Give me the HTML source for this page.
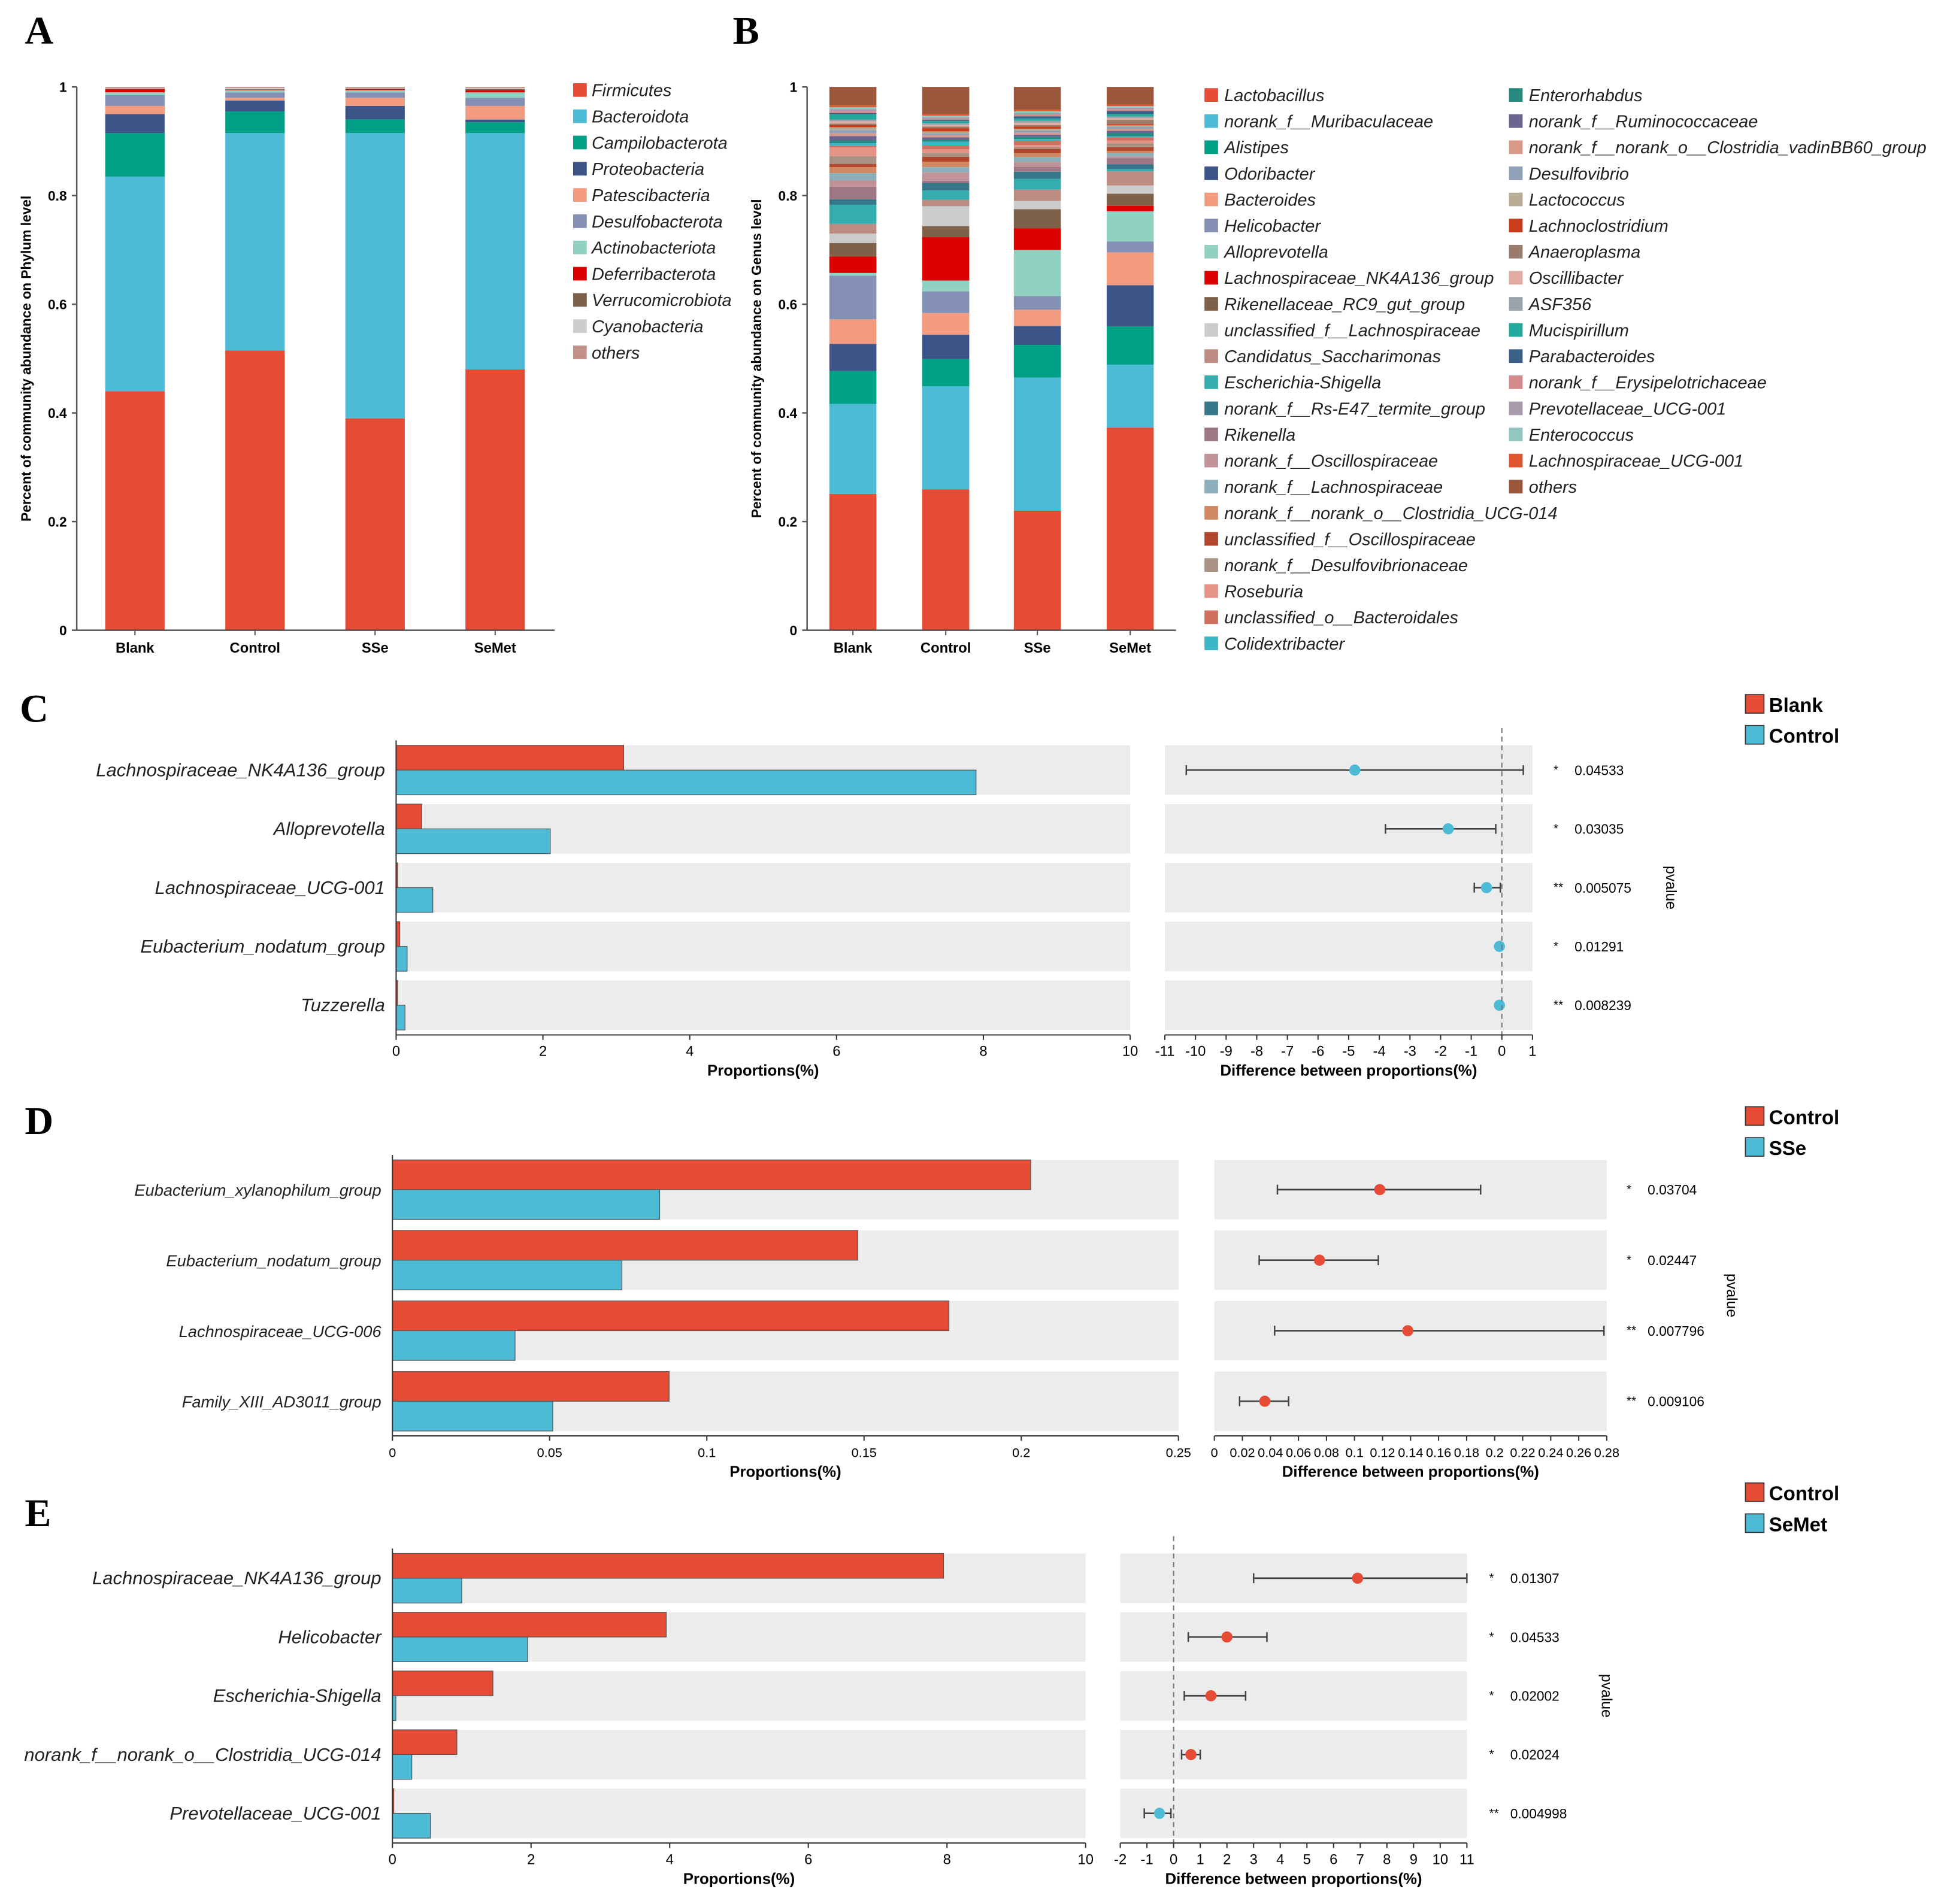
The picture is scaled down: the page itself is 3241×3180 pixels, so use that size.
<!DOCTYPE html>
<html><head><meta charset="utf-8"><style>
html,body{margin:0;padding:0;background:#fff;}
svg{display:block;font-family:"Liberation Sans",sans-serif;}
</style></head><body>
<svg id="fig" width="3241" height="3180" viewBox="0 0 1568 1538" xmlns="http://www.w3.org/2000/svg"></svg>
<script>
// ---------- Panel A data ----------
const aGroups = ["Blank","Control","SSe","SeMet"];
const aPhyla = ["Firmicutes","Bacteroidota","Campilobacterota","Proteobacteria","Patescibacteria","Desulfobacterota","Actinobacteriota","Deferribacterota","Verrucomicrobiota","Cyanobacteria","others"];
const aColors = ["#e64b35","#4dbbd5","#00a087","#3c5488","#f39b7f","#8491b4","#91d1c2","#dc0000","#7e6148","#cccccc","#c4908a"];
const aBlank   = [0.44,0.395,0.08,0.035,0.015,0.02,0.005,0.006,0.001,0.001,0.002];
const aControl = [0.515,0.40,0.04,0.02,0.005,0.01,0.004,0.001,0.001,0.002,0.002];
const aSSe     = [0.39,0.525,0.025,0.025,0.015,0.01,0.004,0.002,0.001,0.001,0.002];
const aSeMet   = [0.48,0.435,0.02,0.005,0.025,0.015,0.01,0.004,0.002,0.002,0.002];
const aYTicks = [0,0.2,0.4,0.6,0.8,1];
const aYTickLabels = ["0","0.2","0.4","0.6","0.8","1"];

// ---------- Panel B data ----------
const bGroups = ["Blank","Control","SSe","SeMet"];
const bGenera = ["Lactobacillus","norank_f__Muribaculaceae","Alistipes","Odoribacter","Bacteroides","Helicobacter","Alloprevotella","Lachnospiraceae_NK4A136_group","Rikenellaceae_RC9_gut_group","unclassified_f__Lachnospiraceae","Candidatus_Saccharimonas","Escherichia-Shigella","norank_f__Rs-E47_termite_group","Rikenella","norank_f__Oscillospiraceae","norank_f__Lachnospiraceae","norank_f__norank_o__Clostridia_UCG-014","unclassified_f__Oscillospiraceae","norank_f__Desulfovibrionaceae","Roseburia","unclassified_o__Bacteroidales","Colidextribacter","Enterorhabdus","norank_f__Ruminococcaceae","norank_f__norank_o__Clostridia_vadinBB60_group","Desulfovibrio","Lactococcus","Lachnoclostridium","Anaeroplasma","Oscillibacter","ASF356","Mucispirillum","Parabacteroides","norank_f__Erysipelotrichaceae","Prevotellaceae_UCG-001","Enterococcus","Lachnospiraceae_UCG-001","others"];
const bColors = ["#e64b35","#4dbbd5","#00a087","#3c5488","#f39b7f","#8491b4","#91d1c2","#dc0000","#7e6148","#cccccc","#bc8c83","#33adb0","#357788","#9f7685","#c19398","#8bb0bc","#d28763","#b2472b","#a89284","#e49486","#d26e5d","#3db6c8","#26897f","#6c6390","#d99a8a","#8fa0b8","#b9ad93","#cc3b1a","#9a7c6c","#e3aca2","#99a4ad","#22a99b","#3a6089","#d38a8a","#a899ad","#94c6c1","#e0562f","#9a573a"];
const bBlank   = [0.25,0.165,0.06,0.05,0.045,0.08,0.005,0.03,0.025,0.017,0.018,0.035,0.01,0.023,0.012,0.013,0.011,0.006,0.014,0.016,0.003,0.005,0.005,0.008,0.005,0.006,0.005,0.004,0.003,0.004,0.003,0.01,0.002,0.004,0.003,0.004,0.003,0.034];
const bControl = [0.26,0.19,0.05,0.045,0.04,0.04,0.02,0.08,0.02,0.037,0.012,0.017,0.014,0.004,0.015,0.01,0.01,0.009,0.007,0.007,0.007,0.007,0.004,0.004,0.004,0.003,0.004,0.006,0.003,0.003,0.003,0.004,0.002,0.002,0.003,0.003,0.003,0.05];
const bSSe     = [0.22,0.245,0.06,0.035,0.03,0.025,0.085,0.04,0.035,0.015,0.021,0.02,0.013,0.009,0.009,0.009,0.007,0.008,0.003,0.004,0.008,0.003,0.004,0.004,0.004,0.004,0.003,0.004,0.003,0.004,0.004,0.004,0.004,0.003,0.003,0.003,0.003,0.042];
const bSeMet   = [0.37,0.115,0.07,0.075,0.06,0.02,0.055,0.01,0.022,0.015,0.026,0.004,0.009,0.011,0.003,0.006,0.004,0.007,0.007,0.005,0.006,0.002,0.006,0.004,0.003,0.004,0.003,0.002,0.008,0.003,0.003,0.005,0.005,0.003,0.003,0.003,0.003,0.032];

// ---------- Panel C data ----------
const cTaxa = ["Lachnospiraceae_NK4A136_group","Alloprevotella","Lachnospiraceae_UCG-001","Eubacterium_nodatum_group","Tuzzerella"];
const cGroupA = [3.1,0.35,0.02,0.05,0.02];
const cGroupB = [7.9,2.1,0.5,0.15,0.12];
const cDiff = [-4.8,-1.75,-0.5,-0.08,-0.08];
const cLow = [-10.3,-3.8,-0.9,-0.12,-0.12];
const cHigh = [0.7,-0.2,-0.05,-0.04,-0.04];
const cStars = ["*","*","**","*","**"];
const cPvals = ["0.04533","0.03035","0.005075","0.01291","0.008239"];
const cLeftTicks = [0,2,4,6,8,10];
const cRightTicks = [-11,-10,-9,-8,-7,-6,-5,-4,-3,-2,-1,0,1];

// ---------- Panel D data ----------
const dTaxa = ["Eubacterium_xylanophilum_group","Eubacterium_nodatum_group","Lachnospiraceae_UCG-006","Family_XIII_AD3011_group"];
const dGroupA = [0.203,0.148,0.177,0.088];
const dGroupB = [0.085,0.073,0.039,0.051];
const dDiff = [0.118,0.075,0.138,0.036];
const dLow = [0.045,0.032,0.043,0.018];
const dHigh = [0.19,0.117,0.278,0.053];
const dStars = ["*","*","**","**"];
const dPvals = ["0.03704","0.02447","0.007796","0.009106"];
const dLeftTicks = [0,0.05,0.1,0.15,0.2,0.25];
const dRightTicks = [0,0.02,0.04,0.06,0.08,0.1,0.12,0.14,0.16,0.18,0.2,0.22,0.24,0.26,0.28];

// ---------- Panel E data ----------
const eTaxa = ["Lachnospiraceae_NK4A136_group","Helicobacter","Escherichia-Shigella","norank_f__norank_o__Clostridia_UCG-014","Prevotellaceae_UCG-001"];
const eGroupA = [7.95,3.95,1.45,0.93,0.02];
const eGroupB = [1.0,1.95,0.05,0.28,0.55];
const eDiff = [6.9,2.0,1.4,0.65,-0.53];
const eLow = [3.0,0.55,0.4,0.3,-1.1];
const eHigh = [11,3.5,2.7,1.0,-0.1];
const eStars = ["*","*","*","*","**"];
const ePvals = ["0.01307","0.04533","0.02002","0.02024","0.004998"];
const eLeftTicks = [0,2,4,6,8,10];
const eRightTicks = [-2,-1,0,1,2,3,4,5,6,7,8,9,10,11];

const NS = "http://www.w3.org/2000/svg";
const svg = document.getElementById("fig");
function mk(tag, attrs, parent){
  const el = document.createElementNS(NS, tag);
  for (const k in attrs) el.setAttribute(k, attrs[k]);
  (parent || svg).appendChild(el);
  return el;
}
function txt(s, attrs, parent){ const t = mk("text", attrs, parent); t.textContent = s; return t; }
function fmt(v){ return String(+v.toFixed(2)); }

[["A",20,35],["B",592,35],["C",16,583],["D",20,916],["E",20,1233]].forEach(p=>{
  const t = txt(p[0], {x:p[1], y:p[2], "font-family":"Liberation Serif,serif", "font-size":32, "font-weight":"bold"});
  
  
});

function stacked(id, x0, x1, yTop, yBot, centers, bw, groups, series, colors, title){
  const g = mk("g", {});
  
  
  const ys = v => yBot - v * (yBot - yTop);
  series.forEach((vals, gi) => {
    const total = vals.reduce((s,v)=>s+v,0);
    let acc = 0;
    vals.forEach((v, si) => {
      const a0 = acc/total, a1 = (acc+v)/total;
      const r = mk("rect", {x: centers[gi]-bw/2, y: ys(a1), width: bw, height: Math.max(0, ys(a0)-ys(a1)), fill: colors[si]}, g);
      
      
      acc += v;
    });
  });
  mk("line", {x1:x0, y1:yTop, x2:x0, y2:yBot, stroke:"#555", "stroke-width":1.2}, g);
  mk("line", {x1:x0, y1:yBot, x2:x1, y2:yBot, stroke:"#555", "stroke-width":1.2}, g);
  aYTicks.forEach((t,i) => {
    mk("line", {x1:x0-4, y1:ys(t), x2:x0, y2:ys(t), stroke:"#555", "stroke-width":1.2}, g);
    const l = txt(aYTickLabels[i], {x:x0-8, y:ys(t)+4, "font-size":11, "font-weight":"bold", "text-anchor":"end"}, g);
    
    
  });
  groups.forEach((gname, i) => {
    mk("line", {x1:centers[i], y1:yBot, x2:centers[i], y2:yBot+4, stroke:"#555"}, g);
    const l = txt(gname, {x:centers[i], y:yBot+18, "font-size":11.5, "font-weight":"bold", "text-anchor":"middle"}, g);
    
    
  });
  const yt = txt(title, {x:0, y:0, "font-size":11, "font-weight":"bold", "text-anchor":"middle", transform:`translate(${x0-37},${(yTop+yBot)/2}) rotate(-90)`}, g);
  
  
}
stacked("panel-a", 62, 448, 70, 509, [109,206,303,400], 48, aGroups, [aBlank,aControl,aSSe,aSeMet], aColors, "Percent of community abundance on Phylum level");
stacked("panel-b", 652, 950, 70, 509, [689,764,838,913], 38, bGroups, [bBlank,bControl,bSSe,bSeMet], bColors, "Percent of community abundance on Genus level");

aPhyla.forEach((n,i) => {
  const y = 73 + i*21.2;
  const sq = mk("rect", {x:463, y:y-6, width:11, height:11, fill:aColors[i]});
  
  
  const t = txt(n, {x:478, y:y+4.5, "font-size":14, "font-style":"italic", fill:"#222"});
  
  
});
bGenera.forEach((n,i) => {
  const col = i < 22 ? 0 : 1;
  const row = col ? i-22 : i;
  const y = 77 + row*21.1;
  const x = col ? 1219 : 973;
  const sq = mk("rect", {x:x, y:y-6, width:11, height:11, fill:bColors[i]});
  
  
  const t = txt(n, {x:x+16, y:y+4.5, "font-size":14, "font-style":"italic", fill:"#222"});
  
  
});

function comp(cfg){
  const g = mk("g", {});
  
  
  const lx = v => cfg.lx0 + (v - cfg.ld[0])/(cfg.ld[1]-cfg.ld[0])*(cfg.lx1-cfg.lx0);
  const rx = v => cfg.rx0 + (v - cfg.rd[0])/(cfg.rd[1]-cfg.rd[0])*(cfg.rx1-cfg.rx0);
  const n = cfg.taxa.length, h = cfg.bandH;
  const top = cfg.y0 - h/2 - 4, bot = cfg.y0 + (n-1)*cfg.step + h/2 + 4;
  for (let i=0;i<n;i++){
    const yc = cfg.y0 + i*cfg.step;
    const b1 = mk("rect", {x:cfg.lx0, y:yc-h/2, width:cfg.lx1-cfg.lx0, height:h, fill:"#ececec"}, g);
    
    
    const b2 = mk("rect", {x:cfg.rx0, y:yc-h/2, width:cfg.rx1-cfg.rx0, height:h, fill:"#ececec"}, g);
    
    
    const r1 = mk("rect", {x:lx(0), y:yc-h/2, width:lx(cfg.a[i])-lx(0), height:h/2, fill:"#e64b35", stroke:"#555", "stroke-width":0.6}, g);
    
    
    const r2 = mk("rect", {x:lx(0), y:yc, width:lx(cfg.b[i])-lx(0), height:h/2, fill:"#4dbbd5", stroke:"#555", "stroke-width":0.6}, g);
    
    
    const lab = txt(cfg.taxa[i], {x:cfg.lx0-9, y:yc+5, "font-size":cfg.labFs, "font-style":"italic", "text-anchor":"end", fill:"#222"}, g);
    
    
    mk("line", {x1:rx(cfg.lo[i]), y1:yc, x2:rx(cfg.hi[i]), y2:yc, stroke:"#444", "stroke-width":1.3}, g);
    [cfg.lo[i], cfg.hi[i]].forEach(v => mk("line", {x1:rx(v), y1:yc-4, x2:rx(v), y2:yc+4, stroke:"#444", "stroke-width":1.2}, g));
    const dot = mk("circle", {cx:rx(cfg.d[i]), cy:yc, r:4.5, fill: cfg.d[i] < 0 ? "#4dbbd5" : "#e64b35"}, g);
    
    
    const st = txt(cfg.stars[i], {x:cfg.px, y:yc+3, "font-size":10}, g);
    
    
    const pv = txt(cfg.pv[i], {x:cfg.px+17, y:yc+4, "font-size":11}, g);
    
    
  }
  if (cfg.zeroLine){
    mk("line", {x1:rx(0), y1:top-10, x2:rx(0), y2:bot, stroke:"#777", "stroke-width":1, "stroke-dasharray":"4,3"}, g);
  }
  mk("line", {x1:cfg.lx0, y1:top, x2:cfg.lx0, y2:bot, stroke:"#333", "stroke-width":1}, g);
  mk("line", {x1:cfg.lx0, y1:bot, x2:cfg.lx1, y2:bot, stroke:"#333", "stroke-width":1}, g);
  mk("line", {x1:cfg.rx0, y1:bot, x2:cfg.rx1, y2:bot, stroke:"#333", "stroke-width":1}, g);
  cfg.lt.forEach(t => {
    mk("line", {x1:lx(t), y1:bot, x2:lx(t), y2:bot+4, stroke:"#333"}, g);
    const l = txt(fmt(t), {x:lx(t), y:bot+17, "font-size":cfg.tickFs, "text-anchor":"middle"}, g);
    
    
  });
  cfg.rt.forEach(t => {
    mk("line", {x1:rx(t), y1:bot, x2:rx(t), y2:bot+4, stroke:"#333"}, g);
    const l = txt(fmt(t), {x:rx(t), y:bot+17, "font-size":cfg.tickFs, "text-anchor":"middle"}, g);
    
    
  });
  const t1 = txt("Proportions(%)", {x:(cfg.lx0+cfg.lx1)/2, y:bot+33, "font-size":12.5, "font-weight":"bold", "text-anchor":"middle"}, g);
  
  
  const t2 = txt("Difference between proportions(%)", {x:(cfg.rx0+cfg.rx1)/2, y:bot+33, "font-size":12.5, "font-weight":"bold", "text-anchor":"middle"}, g);
  
  
  const pt = txt("pvalue", {x:0, y:0, "font-size":12, "text-anchor":"middle", transform:`translate(${cfg.pvx},${cfg.y0+(n-1)*cfg.step/2}) rotate(90)`}, g);
  
  
  cfg.names.forEach((nm,i) => {
    const y = cfg.legY + i*25;
    const sq = mk("rect", {x:1410, y:y-8, width:15, height:15, fill: i ? "#4dbbd5" : "#e64b35", stroke:"#333", "stroke-width":0.8}, g);
    
    
    const t = txt(nm, {x:1429, y:y+6, "font-size":16, "font-weight":"bold"}, g);
    
    
  });
}
comp({id:"panel-c", taxa:cTaxa, a:cGroupA, b:cGroupB, d:cDiff, lo:cLow, hi:cHigh, stars:cStars, pv:cPvals,
  lt:cLeftTicks, rt:cRightTicks, lx0:320, lx1:913, ld:[0,10], rx0:941, rx1:1238, rd:[-11,1],
  y0:622, step:47.5, bandH:40, labFs:15, tickFs:11.5, px:1255, pvx:1346, zeroLine:true, names:["Blank","Control"], legY:569});
comp({id:"panel-d", taxa:dTaxa, a:dGroupA, b:dGroupB, d:dDiff, lo:dLow, hi:dHigh, stars:dStars, pv:dPvals,
  lt:dLeftTicks, rt:dRightTicks, lx0:317, lx1:952, ld:[0,0.25], rx0:981, rx1:1298, rd:[0,0.28],
  y0:961, step:57, bandH:48, labFs:13.2, tickFs:10.5, px:1314, pvx:1395, zeroLine:false, names:["Control","SSe"], legY:902});
comp({id:"panel-e", taxa:eTaxa, a:eGroupA, b:eGroupB, d:eDiff, lo:eLow, hi:eHigh, stars:eStars, pv:ePvals,
  lt:eLeftTicks, rt:eRightTicks, lx0:317, lx1:877, ld:[0,10], rx0:905, rx1:1185, rd:[-2,11],
  y0:1275, step:47.5, bandH:40, labFs:15, tickFs:11.5, px:1203, pvx:1294, zeroLine:true, names:["Control","SeMet"], legY:1206});
</script>
</body></html>
